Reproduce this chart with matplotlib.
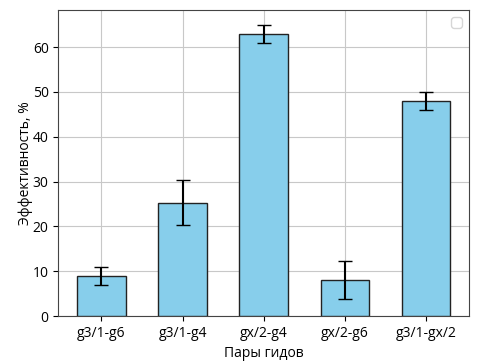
import matplotlib
matplotlib.use('Agg')
from matplotlib import pyplot as plt

plt.rcParams['font.family'] = ['Open Sans', 'DejaVu Sans']

# Data:
pairs = ['g3/1-g6', 'g3/1-g4', 'gx/2-g4', 'gx/2-g6', 'g3/1-gx/2']
efficiency = [9, 25.3, 63, 8, 48]
errors = [2, 5, 2, 4.2, 2]

fig, ax = plt.subplots(figsize=(4.87, 3.62), dpi=100)
ax.bar(pairs, efficiency, yerr=errors, width=0.6, color='skyblue',
       edgecolor='#222222', capsize=5, zorder=3)
ax.set_xlabel('Пары гидов')
ax.set_ylabel('Эффективность, %', labelpad=0)
ax.grid(True, color='#c8c8c8', zorder=0)
for spine in ax.spines.values():
    spine.set_color('#444444')
ax.legend(loc='upper right')
fig.subplots_adjust(left=0.12, right=0.963, top=0.972, bottom=0.127)
plt.savefig('out.png', dpi=100)
